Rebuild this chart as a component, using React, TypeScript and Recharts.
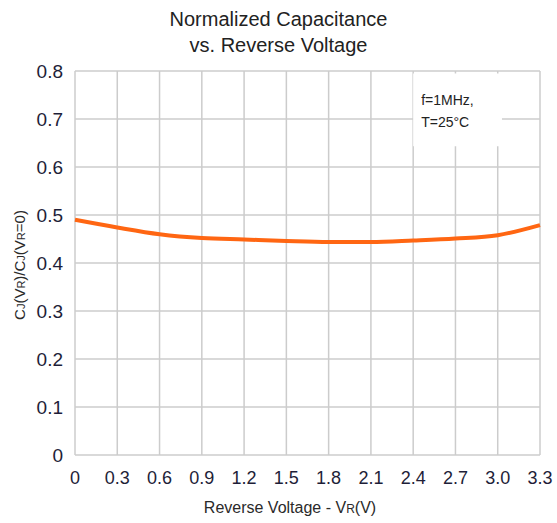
import React from 'react';
import { LineChart, Line, XAxis, YAxis, CartesianGrid, ReferenceArea } from 'recharts';

// reverse voltage (V) and normalized capacitance
const voltage = [0, 0.3, 0.6, 0.9, 1.2, 1.5, 1.8, 2.1, 2.4, 2.7, 3.0, 3.3];
const cjRatio = [0.49, 0.474, 0.46, 0.452, 0.449, 0.446, 0.444, 0.444, 0.447, 0.451, 0.458, 0.479];

const xTicks = [0, 0.3, 0.6, 0.9, 1.2, 1.5, 1.8, 2.1, 2.4, 2.7, 3.0, 3.3];
const yTicks = [0, 0.1, 0.2, 0.3, 0.4, 0.5, 0.6, 0.7, 0.8];

const FONT = '"Liberation Sans", Arial, sans-serif';
const TICK_COLOR = '#1e1e38';

const data = voltage.map((v, i) => ({ v, c: cjRatio[i] }));

const NoteLabel = (props: any) => {
  const { viewBox } = props;
  if (!viewBox) return null;
  const x = viewBox.x + 8;
  const y = viewBox.y;
  return (
    <g>
      <text x={x} y={y + 32} fontSize={14} fill="#222" fontFamily={FONT}>f=1MHz,</text>
      <text x={x} y={y + 54} fontSize={14} fill="#222" fontFamily={FONT}>T=25°C</text>
    </g>
  );
};

export default function App() {
  return (
    <div style={{ position: 'absolute', left: 0, top: 0, width: 557, height: 523, background: '#fff', fontFamily: FONT }}>
      <div style={{ position: 'absolute', left: 0, width: 557, top: 6, textAlign: 'center', fontSize: 20, lineHeight: '26px', color: '#222' }}>
        Normalized Capacitance<br />vs. Reverse Voltage
      </div>
      <div
        style={{
          position: 'absolute',
          left: 19,
          top: 265,
          transform: 'translate(-50%, -50%) rotate(-90deg)',
          fontSize: 15,
          color: '#2a2a2a',
          whiteSpace: 'nowrap',
        }}
      >
        C<span style={{ fontSize: 11 }}>J</span>(V<span style={{ fontSize: 11 }}>R</span>)/C<span style={{ fontSize: 11 }}>J</span>(V<span style={{ fontSize: 11 }}>R</span>=0)
      </div>
      <div style={{ position: 'absolute', left: 0, width: 580, top: 499, textAlign: 'center', fontSize: 16, color: '#2a2a2a' }}>
        Reverse Voltage - V<span style={{ fontSize: 12 }}>R</span>(V)
      </div>
      <LineChart
        width={557}
        height={523}
        data={data}
        margin={{ top: 71, right: 17, left: 0, bottom: 0 }}
        style={{ position: 'absolute', left: 0, top: 0 }}
      >
        <CartesianGrid stroke="#cccccc" strokeWidth={1.5} horizontalValues={yTicks} verticalValues={xTicks} />
        <XAxis
          dataKey="v"
          type="number"
          domain={[0, 3.3]}
          ticks={xTicks}
          height={68}
          axisLine={false}
          tickLine={false}
          interval={0}
          tickFormatter={(v: number) => (v === 0 ? '0' : v.toFixed(1))}
          tick={{ fontSize: 18, fill: TICK_COLOR, fontFamily: FONT }}
          tickMargin={10}
        />
        <YAxis
          type="number"
          domain={[0, 0.8]}
          ticks={yTicks}
          width={75}
          axisLine={false}
          tickLine={false}
          interval={0}
          tickFormatter={(v: number) => (v === 0 ? '0' : v.toFixed(1))}
          tick={{ fontSize: 19, fill: TICK_COLOR, fontFamily: FONT }}
          tickMargin={6}
        />
        <ReferenceArea
          x1={2.4}
          x2={3.03}
          y1={0.643}
          y2={0.795}
          fill="#ffffff"
          fillOpacity={1}
          stroke="none"
          label={<NoteLabel />}
        />
        <Line
          dataKey="c"
          type="monotone"
          stroke="#ff6612"
          strokeWidth={4}
          dot={false}
          isAnimationActive={false}
        />
      </LineChart>
    </div>
  );
}
